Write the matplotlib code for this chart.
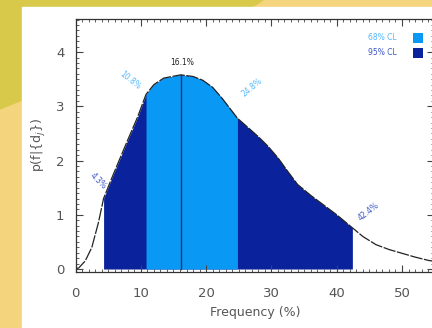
import numpy as np
import matplotlib
matplotlib.use('Agg')
import matplotlib.pyplot as plt
from matplotlib.patches import Polygon, Rectangle
from matplotlib.ticker import MultipleLocator

# posterior curve: frequency (%) vs p(f|{dj})
freq = [0.0, 0.5, 1.5, 2.5, 3.5, 4.3, 5.5, 6.5, 8.0, 9.5, 10.8, 12.0, 13.5,
        16.1, 18.0, 19.5, 21.0, 22.5, 24.8, 26.5, 28.0, 29.5, 31.0, 32.5,
        34.0, 36.0, 38.0, 40.0, 42.4, 44.0, 46.0, 48.0, 50.0, 52.0, 54.0, 55.0]
prob = [0.0, 0.02, 0.15, 0.4, 0.85, 1.3, 1.66, 1.95, 2.38, 2.8, 3.22, 3.4, 3.52,
        3.58, 3.55, 3.48, 3.35, 3.14, 2.78, 2.6, 2.44, 2.26, 2.05, 1.8,
        1.56, 1.36, 1.18, 1.0, 0.76, 0.6, 0.45, 0.36, 0.29, 0.22, 0.16, 0.14]

# confidence limits (%)
lo95, lo68, median, hi68, hi95 = 4.3, 10.8, 16.1, 24.8, 42.4
cl_labels = ['4.3%', '10.8%', '16.1%', '24.8%', '42.4%']

light = '#0a98f5'
dark = '#0a239c'

fig = plt.figure(figsize=(4.32, 3.28), dpi=100)

# slide background behind the plot
bg = fig.add_axes([0, 0, 1, 1])
bg.set_xlim(0, 432)
bg.set_ylim(328, 0)
bg.axis('off')
bg.add_patch(Rectangle((0, 0), 432, 328, color='#f4d57d'))
bg.add_patch(Polygon([(0, 0), (263, 0), (252, 7), (22, 7), (22, 100), (0, 109)],
                     closed=True, color='#d8c94b'))
bg.add_patch(Rectangle((22, 7), 410, 321, color='white'))

ax = fig.add_axes([75.5 / 432, (328 - 272) / 328, (434 - 75.5) / 432, (272 - 19) / 328])
ax.patch.set_alpha(0)

x = np.array(freq)
y = np.array(prob)
ax.fill_between(x, 0, y, where=(x >= lo95) & (x <= hi95), color=dark, lw=0)
ax.fill_between(x, 0, y, where=(x >= lo68) & (x <= hi68), color=light, lw=0)
ax.plot([median, median], [0, prob[freq.index(median)]], color='#163a6e', lw=1)
ax.plot(x, y, color='#222222', lw=0.9, dashes=(10, 1.2))

# labels along the curve
ax.text(3.4, 1.62, cl_labels[0], color='#3a55c8', fontsize=5.5, rotation=-45,
        ha='center', va='center')
ax.text(8.3, 3.48, cl_labels[1], color='#55b8ff', fontsize=5.5, rotation=-38,
        ha='center', va='center')
ax.text(16.4, 3.8, cl_labels[2], color='#222222', fontsize=5.5,
        ha='center', va='center')
ax.text(27.0, 3.34, cl_labels[3], color='#55b8ff', fontsize=5.5, rotation=40,
        ha='center', va='center')
ax.text(44.8, 1.05, cl_labels[4], color='#3a55c8', fontsize=5.5, rotation=38,
        ha='center', va='center')

# legend
ax.text(49.2, 4.26, '68% CL', color='#55b8ff', fontsize=5.5, ha='right', va='center')
ax.text(49.2, 3.99, '95% CL', color='#3a55c8', fontsize=5.5, ha='right', va='center')
ax.plot([52.4], [4.26], marker='s', ms=7, color=light, mew=0)
ax.plot([52.4], [3.99], marker='s', ms=7, color=dark, mew=0)

ax.set_xlim(0, 54.9)
ax.set_ylim(-0.055, 4.61)
ax.xaxis.set_major_locator(MultipleLocator(10))
ax.xaxis.set_minor_locator(MultipleLocator(1))
ax.yaxis.set_major_locator(MultipleLocator(1))
ax.yaxis.set_minor_locator(MultipleLocator(0.1))
ax.tick_params(which='both', direction='in', top=True, right=True,
               colors='#444444', labelcolor='#555555', labelsize=9.5)
ax.tick_params(which='major', length=5, width=0.8)
ax.tick_params(which='minor', length=2.5, width=0.6)
ax.tick_params(axis='x', pad=11)
ax.tick_params(axis='y', pad=8)
for s in ax.spines.values():
    s.set_color('#333333')
    s.set_linewidth(0.9)

ax.set_xlabel('Frequency (%)', color='#555555', fontsize=9, labelpad=4)
ax.set_ylabel('p(f|{d$_j$})', color='#555555', fontsize=9, labelpad=6)

fig.savefig('out.png', dpi=100)
